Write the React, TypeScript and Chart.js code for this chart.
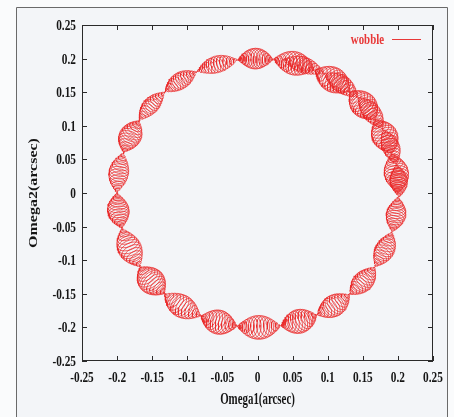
import { useEffect, useRef } from "react";
import { Chart, registerables } from "chart.js";

Chart.register(...registerables);

// ---- values ----
const tickValues = [-0.25, -0.2, -0.15, -0.1, -0.05, 0, 0.05, 0.1, 0.15, 0.2, 0.25];
const tickLabels = ["-0.25", "-0.2", "-0.15", "-0.1", "-0.05", "0", "0.05", "0.1", "0.15", "0.2", "0.25"];
const xTitle = "Omega1(arcsec)";
const yTitle = "Omega2(arcsec)";
const seriesName = "wobble";

// pinch points (nodes) of the braided wobble path, polar angle in degrees, in drawing order
const nodeAngles = [
  0, 17, 33, 49, 66, 83.6, 98, 115.6, 131.3, 147.4, 162.5, 180, 195.2, 213.3, 228.5,
  246.2, 261.6, 279.5, 295, 311, 326.7, 343.2, 358.3, 372, 388, 405, 422, 440,
];
// half width of each bead (arcsec)
const beadHalfWidths = [
  0.0175, 0.0185, 0.0185, 0.0185, 0.0175, 0.0155, 0.0125, 0.0125, 0.0115, 0.016, 0.014,
  0.0155, 0.017, 0.019, 0.0168, 0.018, 0.0178, 0.0178, 0.016, 0.0145, 0.014, 0.014,
  0.0125, 0.0125, 0.013, 0.013, 0.012,
];
// radius of the bead axis (arcsec)
const beadRadii = [
  0.2, 0.2, 0.2, 0.2, 0.2, 0.2, 0.2, 0.2, 0.2, 0.2, 0.2, 0.2, 0.2, 0.2, 0.2, 0.2, 0.2,
  0.2, 0.2, 0.2, 0.2, 0.2, 0.202, 0.202, 0.202, 0.2015, 0.2015,
];
// small loops counted inside each bead
const loopsPerBead = [
  16, 16, 16, 16, 16, 16, 16, 16, 16, 16, 16, 16, 16, 16, 16, 16, 16, 16, 16, 16, 16, 16,
  16, 16, 16, 16, 16,
];

function buildPath() {
  const pts: { x: number; y: number }[] = [];
  const perLoop = 24;
  const flat = 0.6;
  for (let b = 0; b < beadHalfWidths.length; b++) {
    const a0 = nodeAngles[b];
    const a1 = nodeAngles[b + 1];
    const W = beadHalfWidths[b];
    const n = loopsPerBead[b];
    const r = beadRadii[b];
    const steps = n * perLoop;
    for (let s = b === 0 ? 0 : 1; s <= steps; s++) {
      const u = s / steps;
      const th = ((a0 + (a1 - a0) * u) * Math.PI) / 180;
      const amp = W * Math.sin(Math.PI * u);
      const phi = 2 * Math.PI * n * u;
      const along = flat * amp * Math.sin(phi);
      const across = amp * Math.cos(phi);
      const c = Math.cos(th);
      const sn = Math.sin(th);
      pts.push({
        x: r * c + across * c - along * sn,
        y: r * sn + across * sn + along * c,
      });
    }
  }
  return pts;
}

const decor = {
  id: "decor",
  beforeDraw(chart: any) {
    const { ctx, width, height } = chart;
    ctx.save();
    ctx.fillStyle = "#fafbfc";
    ctx.fillRect(0, 0, width, height);
    ctx.fillStyle = "#f3f5f8";
    ctx.fillRect(17, 8, 431, height);
    ctx.strokeStyle = "#6a6a6a";
    ctx.lineWidth = 1;
    ctx.beginPath();
    ctx.moveTo(16.5, height + 2);
    ctx.lineTo(16.5, 7.5);
    ctx.lineTo(447.5, 7.5);
    ctx.lineTo(447.5, height + 2);
    ctx.stroke();
    ctx.restore();
  },
  afterDraw(chart: any) {
    const { ctx, chartArea } = chart;
    const { left, right, top, bottom } = chartArea;
    const xs = chart.scales.x;
    const ys = chart.scales.y;
    ctx.save();
    ctx.strokeStyle = "#2a2a2a";
    ctx.lineWidth = 1;
    ctx.strokeRect(Math.round(left) + 0.5, Math.round(top) + 0.5, Math.round(right - left) - 1, Math.round(bottom - top) - 1);
    const tl = 5;
    ctx.beginPath();
    tickValues.forEach((v) => {
      const px = Math.round(xs.getPixelForValue(v)) + 0.5;
      ctx.moveTo(px, bottom);
      ctx.lineTo(px, bottom - tl);
      ctx.moveTo(px, top);
      ctx.lineTo(px, top + tl);
      const py = Math.round(ys.getPixelForValue(v)) + 0.5;
      ctx.moveTo(left, py);
      ctx.lineTo(left + tl, py);
      ctx.moveTo(right, py);
      ctx.lineTo(right - tl, py);
    });
    ctx.stroke();

    // tick labels
    ctx.fillStyle = "#151515";
    ctx.font = 'bold 14.5px "Liberation Serif", serif';
    ctx.textBaseline = "alphabetic";
    const sx = 0.78;
    tickValues.forEach((v, i) => {
      const lab = tickLabels[i];
      const px = xs.getPixelForValue(v);
      ctx.save();
      ctx.translate(px, 382);
      ctx.scale(sx, 1);
      ctx.textAlign = "center";
      ctx.fillText(lab, 0, 0);
      ctx.restore();
      const py = ys.getPixelForValue(v);
      ctx.save();
      ctx.translate(76, py + 5);
      ctx.scale(sx, 1);
      ctx.textAlign = "right";
      ctx.fillText(lab, 0, 0);
      ctx.restore();
    });

    // axis titles
    ctx.font = 'bold 16px "Liberation Serif", serif';
    ctx.save();
    ctx.translate((left + right) / 2, 404);
    ctx.scale(0.68, 1);
    ctx.textAlign = "center";
    ctx.fillText(xTitle, 0, 0);
    ctx.restore();
    ctx.save();
    ctx.translate(37, (top + bottom) / 2);
    ctx.scale(0.72, 1);
    ctx.rotate(-Math.PI / 2);
    ctx.textAlign = "center";
    ctx.fillText(yTitle, 0, 0);
    ctx.restore();

    // key
    ctx.fillStyle = "#e83838";
    ctx.font = 'bold 15.5px "Liberation Serif", serif';
    ctx.save();
    ctx.translate(384, 44);
    ctx.scale(0.7, 1);
    ctx.textAlign = "right";
    ctx.fillText(seriesName, 0, 0);
    ctx.restore();
    ctx.strokeStyle = "#e83838";
    ctx.beginPath();
    ctx.moveTo(392, 39.5);
    ctx.lineTo(421, 39.5);
    ctx.stroke();
    ctx.restore();
  },
};

export default function App() {
  const ref = useRef<HTMLCanvasElement | null>(null);
  useEffect(() => {
    if (!ref.current) return;
    const chart = new Chart(ref.current, {
      type: "scatter",
      data: {
        datasets: [
          {
            label: seriesName,
            data: buildPath(),
            showLine: true,
            borderColor: "rgba(234, 40, 40, 0.9)",
            borderWidth: 0.8,
            pointRadius: 0,
            pointHoverRadius: 0,
            fill: false,
            tension: 0,
          },
        ],
      },
      options: {
        animation: false,
        responsive: false,
        devicePixelRatio: 1,
        events: [],
        layout: { padding: { left: 0, top: 25, right: 21, bottom: 0 } },
        plugins: { legend: { display: false }, tooltip: { enabled: false } },
        scales: {
          x: {
            type: "linear",
            min: -0.25,
            max: 0.25,
            grid: { display: false },
            border: { display: false },
            ticks: { display: false },
            afterBuildTicks: (s: any) => {
              s.ticks = tickValues.map((v) => ({ value: v }));
            },
            afterFit: (s: any) => {
              s.height = 56;
            },
          },
          y: {
            type: "linear",
            min: -0.25,
            max: 0.25,
            grid: { display: false },
            border: { display: false },
            ticks: { display: false },
            afterBuildTicks: (s: any) => {
              s.ticks = tickValues.map((v) => ({ value: v }));
            },
            afterFit: (s: any) => {
              s.width = 82;
            },
          },
        },
      },
      plugins: [decor],
    });
    return () => chart.destroy();
  }, []);
  return (
    <div style={{ position: "fixed", left: 0, top: 0, width: 454, height: 417 }}>
      <canvas ref={ref} width={454} height={417} style={{ display: "block" }} />
    </div>
  );
}
